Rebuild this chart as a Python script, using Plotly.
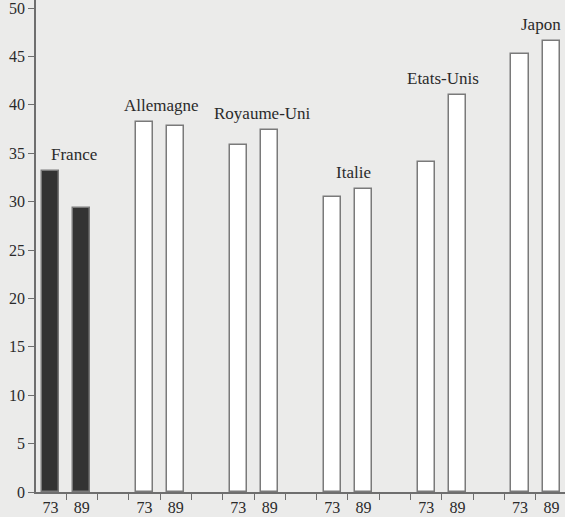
import plotly.graph_objects as go

countries = ["France", "Allemagne", "Royaume-Uni", "Italie", "Etats-Unis", "Japon"]
years = ["73", "89"]
values_73 = [33.2, 38.2, 35.8, 30.5, 34.1, 45.2]
values_89 = [29.3, 37.8, 37.4, 31.3, 41.0, 46.6]
y_ticks = [0, 5, 10, 15, 20, 25, 30, 35, 40, 45, 50]

# small horizontal nudges of the country labels (px), as in the original typesetting
label_nudge = [8, 1, 8, 6, 1, 5]

FONT = "Liberation Serif, Times New Roman, serif"
TXT = "#2a2a2a"

xs, ys, fills, labels = [], [], [], []
for i, c in enumerate(countries):
    for j, v in enumerate([values_73[i], values_89[i]]):
        xs.append(3 * i + j)
        ys.append(v)
        fills.append("#333333" if c == "France" else "#ffffff")
        labels.append(years[j])

fig = go.Figure()
fig.add_trace(go.Bar(
    x=xs, y=ys, width=0.55,
    marker=dict(color=fills, line=dict(color="#7a7a7a", width=1.5)),
    hoverinfo="skip", showlegend=False,
))

for i, c in enumerate(countries):
    fig.add_annotation(
        x=3 * i + 0.5, y=max(values_73[i], values_89[i]),
        text=c, showarrow=False, xanchor="center", yanchor="bottom",
        yshift=5, xshift=label_nudge[i],
        font=dict(family=FONT, size=17, color=TXT),
    )

fig.update_layout(
    width=565, height=517,
    margin=dict(l=36, r=0, t=0, b=25, autoexpand=False),
    paper_bgcolor="#ebebea", plot_bgcolor="#ebebea",
    bargap=0,
)
fig.update_xaxes(
    range=[-0.465, 16.435], tickvals=xs, ticktext=labels, ticks="", ticklen=0,
    showgrid=False, zeroline=False, showline=True, linecolor="#6e6e6e", linewidth=1.5,
    tickfont=dict(family=FONT, size=16, color=TXT), automargin=False,
    minor=dict(ticks="outside", ticklen=6, tickcolor="#6e6e6e", tickwidth=1.2, tick0=0.5, dtick=1, showgrid=False),
)
fig.update_yaxes(
    range=[0, 50.83], tickvals=y_ticks, ticks="outside", ticklen=6, tickcolor="#6e6e6e", tickwidth=1.2,
    showgrid=False, zeroline=False, showline=True, linecolor="#6e6e6e", linewidth=1.5,
    tickfont=dict(family=FONT, size=16, color=TXT), automargin=False,
    ticklabeloverflow="allow",
)

fig.write_html(
    "out.html",
    config={"displayModeBar": False},
    post_script="document.body.style.margin='0';document.body.style.padding='0';",
)
